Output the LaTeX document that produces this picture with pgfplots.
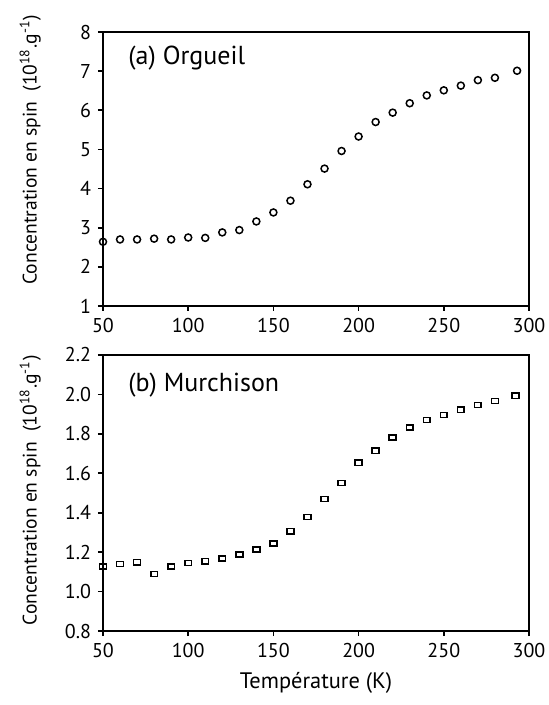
\documentclass[border=0pt]{standalone}
\usepackage{pgfplots}
\pgfplotsset{compat=1.18}
\usepackage{fontspec}
\setmainfont{PT Sans}
\begin{document}
\begin{tikzpicture}
\useasboundingbox (-51.5pt,-199.5pt) rectangle (222.5pt,153pt);
\pgfplotsset{
  every axis/.append style={
    scale only axis, width=213pt,
    axis line style={line width=0.8pt},
    tick style={line width=0.8pt, black},
    tick align=outside, tick pos=left,
    major tick length=2.5pt,
    xmin=50, xmax=300, xtick={50,100,...,300},
    font=\fontsize{10}{12}\selectfont,
    /pgf/number format/assume math mode=true,
    ylabel={Concentration en spin\ \ (10\textsuperscript{18}.g\textsuperscript{-1})},
  }
}
\begin{axis}[name=top, at={(0,0)}, anchor=south west, height=137pt,
  ymin=1, ymax=8, ytick={1,...,8},
  ylabel style={at={(axis description cs:-0.171,0.57)}, anchor=center, font=\fontsize{9.8}{11}\selectfont}]
\addplot[only marks, mark=o, mark size=1.75pt, mark options={line width=0.75pt}] coordinates {
(50,2.64)(60,2.70)(70,2.70)(80,2.72)(90,2.70)(100,2.75)(110,2.74)(120,2.88)(130,2.94)
(140,3.16)(150,3.39)(160,3.69)(170,4.11)(180,4.51)(190,4.96)(200,5.33)(210,5.70)
(220,5.94)(230,6.18)(240,6.38)(250,6.51)(260,6.63)(270,6.77)(280,6.83)(293,7.01)};
\node[anchor=west, font=\fontsize{13}{15}\selectfont] at (rel axis cs:0.043,0.905) {(a) Orgueil};
\end{axis}
\begin{axis}[at={(0,-24.5pt)}, anchor=north west, height=138pt,
  ymin=0.8, ymax=2.2, ytick={0.8,1.0,...,2.2},
  ylabel style={at={(axis description cs:-0.171,0.51)}, anchor=center, font=\fontsize{9.8}{11}\selectfont},
  yticklabel style={/pgf/number format/.cd, fixed, fixed zerofill, precision=1},
  xlabel={Température (K)},
  xlabel style={at={(axis description cs:0.5,-0.188)}, anchor=center, font=\fontsize{11.2}{13}\selectfont}]
\addplot[only marks, mark=square, mark size=1.7pt, mark options={line width=0.8pt, yscale=0.75}] coordinates {
(50,1.128)(60,1.140)(70,1.149)(80,1.089)(90,1.128)(100,1.145)(110,1.154)(120,1.167)
(130,1.188)(140,1.213)(150,1.244)(160,1.306)(170,1.379)(180,1.470)(190,1.550)(200,1.653)
(210,1.714)(220,1.782)(230,1.833)(240,1.871)(250,1.895)(260,1.922)(270,1.946)(280,1.966)(292,1.993)};
\node[anchor=west, font=\fontsize{13}{15}\selectfont] at (rel axis cs:0.043,0.891) {(b) Murchison};
\end{axis}
\end{tikzpicture}
\end{document}
